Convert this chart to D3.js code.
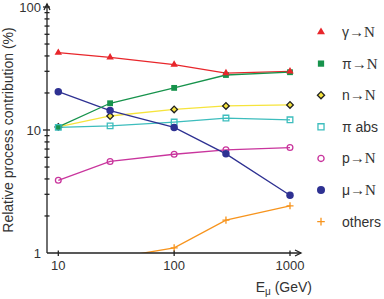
<!DOCTYPE html>
<html>
<head>
<meta charset="utf-8">
<script src="https://cdn.jsdelivr.net/npm/d3@7"></script>
<style>
  body { margin: 0; background: white; }
  svg { display: block; font-family: "Liberation Sans", Arial, sans-serif; }
</style>
</head>
<body>
<div id="chart"></div>
<script>
// muon energies (GeV)
const energies = [10, 28, 100, 280, 1000];

const gammaN  = [42.5, 39, 34, 29, 30];
const piN     = [10.6, 16.5, 22, 28, 29.5];
const nN      = [10.6, 13, 14.7, 15.7, 16];
const piAbs   = [10.5, 10.8, 11.6, 12.5, 12.1];
const pN      = [3.9, 5.55, 6.35, 6.9, 7.2];
const muN     = [20.5, 14.4, 10.5, 6.4, 2.95];
const others  = [null, 0.9, 1.1, 1.85, 2.42];

const xTicks = [10, 100, 1000];
const yTicks = [1, 10, 100];

function drawChart() {
    const W = 384, H = 299;

    let svg = d3.select("#chart").append("svg")
        .attr("width", W).attr("height", H);

    let x = d3.scaleLog().domain([10, 1000]).range([58.3, 290]);
    let y = d3.scaleLog().domain([1, 100]).range([253, 7]);

    const x0 = 47, y0 = 253;

    svg.append("defs").append("clipPath").attr("id", "plot")
        .append("rect").attr("x", x0).attr("y", 0).attr("width", 260).attr("height", y0 - 0);

    // plus marker, thin lines
    const plus = {
        draw: function (ctx, size) {
            let r = Math.sqrt(size) / 2;
            ctx.moveTo(-r, 0); ctx.lineTo(r, 0);
            ctx.moveTo(0, -r); ctx.lineTo(0, r);
        }
    };

    const series = [
        {name: "γ", rest: "→N", values: gammaN, color: "#e8262b", sym: d3.symbolTriangle, size: 24, fill: "#e8262b", stroke: "none", rot: 0},
        {name: "π", rest: "→N", values: piN, color: "#17934c", sym: d3.symbolSquare, size: 34, fill: "#17934c", stroke: "none", rot: 0},
        {name: "n", rest: "→N", values: nN, color: "#f6e43c", sym: d3.symbolSquare, size: 22, fill: "#f6e43c", stroke: "#222", rot: 45},
        {name: "π abs", rest: "", values: piAbs, color: "#3dbdbd", sym: d3.symbolSquare, size: 32, fill: "none", stroke: "#3dbdbd", rot: 0},
        {name: "p", rest: "→N", values: pN, color: "#c9359d", sym: d3.symbolCircle, size: 26, fill: "none", stroke: "#c9359d", rot: 0},
        {name: "μ", rest: "→N", values: muN, color: "#2e3192", sym: d3.symbolCircle, size: 44, fill: "#2e3192", stroke: "none", rot: 0},
        {name: "others", rest: "", values: others, color: "#f7941d", sym: plus, size: 50, fill: "none", stroke: "#f7941d", rot: 0}
    ];

    let line = d3.line()
        .defined(function (d) { return d != null; })
        .x(function (d, i) { return x(energies[i]); })
        .y(function (d) { return y(d); });

    let plot = svg.append("g").attr("clip-path", "url(#plot)");

    // lines first, yellow under green
    [2, 3, 4, 5, 6, 0, 1].forEach(function (k) {
        let s = series[k];
        plot.append("path")
            .attr("d", line(s.values))
            .attr("fill", "none")
            .attr("stroke", s.color)
            .attr("stroke-width", 1.3);
    });

    [2, 1, 3, 4, 5, 6, 0].forEach(function (k) {
        let s = series[k];
        plot.append("g").selectAll("path")
            .data(s.values.map(function (v, i) { return [energies[i], v]; }).filter(function (d) { return d[1] != null; }))
            .enter().append("path")
            .attr("d", d3.symbol().type(s.sym).size(s.size))
            .attr("transform", function (d) { return "translate(" + x(d[0]) + "," + y(d[1]) + ") rotate(" + s.rot + ")"; })
            .attr("fill", s.fill)
            .attr("stroke", s.stroke)
            .attr("stroke-width", 1.3);
    });

    // axes
    let ax = svg.append("g").attr("stroke", "#222").attr("stroke-width", 1.3).attr("fill", "none");
    ax.append("path").attr("d", "M" + x0 + "," + y0 + "V4");
    ax.append("path").attr("d", "M" + (x0 - 3) + ",10L" + x0 + ",4L" + (x0 + 3) + ",10");
    ax.append("path").attr("d", "M" + x0 + "," + y0 + "H301");
    ax.append("path").attr("d", "M295," + (y0 - 3) + "L301," + y0 + "L295," + (y0 + 3));

    // y minor / major ticks
    y.ticks().forEach(function (v) {
        let major = yTicks.indexOf(v) >= 0;
        if (v === 1) return;
        ax.append("line")
            .attr("x1", x0 - (major ? 4 : 2.5)).attr("x2", x0 + (major ? 3 : 2.5))
            .attr("y1", y(v)).attr("y2", y(v));
    });
    xTicks.forEach(function (v) {
        ax.append("line")
            .attr("x1", x(v)).attr("x2", x(v))
            .attr("y1", y0 - 2.5).attr("y2", y0 + 3);
    });

    // tick labels
    svg.append("g").selectAll("text").data(yTicks).enter().append("text")
        .attr("x", 41).attr("y", function (d) { return y(d) + 4.5; })
        .attr("text-anchor", "end")
        .attr("font-size", 13)
        .attr("fill", "#333")
        .text(function (d) { return d; });

    svg.append("g").selectAll("text").data(xTicks).enter().append("text")
        .attr("x", function (d) { return x(d); }).attr("y", 270)
        .attr("text-anchor", "middle")
        .attr("font-size", 13)
        .attr("fill", "#333")
        .text(function (d) { return d; });

    // axis titles
    svg.append("text")
        .attr("transform", "translate(13,130) rotate(-90)")
        .attr("text-anchor", "middle")
        .attr("font-size", 14)
        .attr("fill", "#333")
        .text("Relative process contribution (%)");

    let xt = svg.append("text")
        .attr("x", 312).attr("y", 292)
        .attr("text-anchor", "end")
        .attr("font-size", 14)
        .attr("fill", "#333");
    xt.append("tspan").text("E");
    xt.append("tspan").attr("font-size", 10).attr("dy", 3).text("μ");
    xt.append("tspan").attr("dy", -3).text(" (GeV)");

    // legend
    let leg = svg.append("g");
    series.forEach(function (s, i) {
        let ly = 32 + i * 31.6;
        leg.append("path")
            .attr("d", d3.symbol().type(s.sym).size(s.size * 1.15))
            .attr("transform", "translate(321," + ly + ") rotate(" + s.rot + ")")
            .attr("fill", s.fill)
            .attr("stroke", s.stroke)
            .attr("stroke-width", 1.3);
        let t = leg.append("text")
            .attr("x", 342).attr("y", ly + 5)
            .attr("font-size", 14)
            .attr("fill", "#333");
        t.append("tspan").text(s.name);
        if (s.rest) t.append("tspan").attr("font-family", "Liberation Serif").attr("font-size", 15).text(s.rest);
    });
}
drawChart();
</script>
</body>
</html>
